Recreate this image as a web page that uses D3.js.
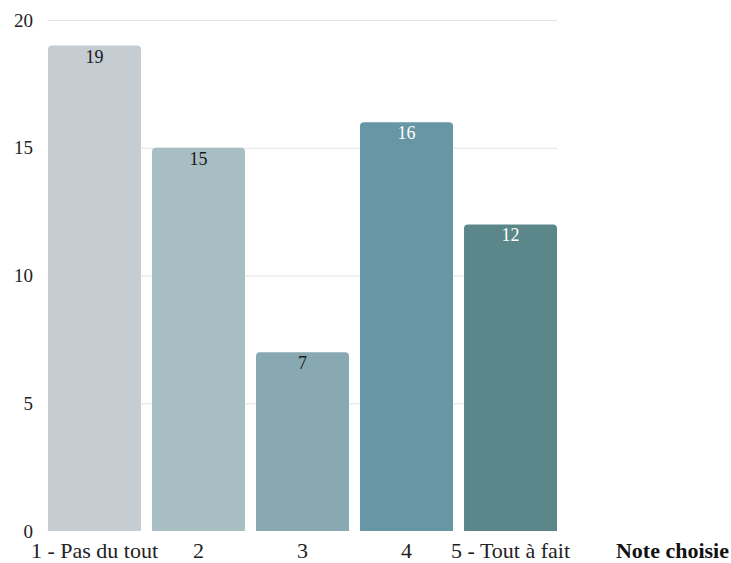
<!DOCTYPE html>
<html><head><meta charset="utf-8">
<script src="https://cdn.jsdelivr.net/npm/d3@7"></script>
<style>body{margin:0;background:#fff}svg{display:block}</style>
</head><body>
<svg id="c" width="731" height="563"></svg>
<script>
const categories = ["1 - Pas du tout", "2", "3", "4", "5 - Tout à fait"];
const values = [19, 15, 7, 16, 12];
const colors = ["#c5cdd3", "#a7bec3", "#88a9b2", "#6796a4", "#5b878b"];
const labelColors = ["#1a1a1a", "#1a1a1a", "#1a1a1a", "#ffffff", "#ffffff"];
const yTicks = [0, 5, 10, 15, 20];
const xTitle = "Note choisie";

const svg = d3.select("#c");
const font = "'Liberation Serif', 'DejaVu Serif', serif";
const x = d3.scaleBand().domain(categories).range([48, 557]).paddingInner(0.106).paddingOuter(0);
const y = d3.scaleLinear().domain([0, 20]).range([531, 20]);

// grid
svg.append("g").selectAll("line").data(yTicks.filter(d => d > 0)).join("line")
  .attr("x1", 48).attr("x2", 557)
  .attr("y1", d => y(d) + 0.5).attr("y2", d => y(d) + 0.5)
  .attr("stroke", "#e2e2e2").attr("stroke-width", 1);

// y tick labels
svg.append("g").selectAll("text").data(yTicks).join("text")
  .attr("x", 33).attr("y", d => y(d))
  .attr("dy", "0.35em").attr("text-anchor", "end")
  .attr("font-family", font).attr("font-size", 19).attr("fill", "#222")
  .text(d => d);

// bars with rounded top corners
const r = 4;
function barPath(d, i) {
  const x0 = x(categories[i]), w = x.bandwidth(), y0 = y(d), y1 = y(0);
  return `M${x0},${y1}V${y0 + r}Q${x0},${y0} ${x0 + r},${y0}H${x0 + w - r}Q${x0 + w},${y0} ${x0 + w},${y0 + r}V${y1}Z`;
}
svg.append("g").selectAll("path").data(values).join("path")
  .attr("d", barPath).attr("fill", (d, i) => colors[i]);

// value labels
svg.append("g").selectAll("text").data(values).join("text")
  .attr("x", (d, i) => x(categories[i]) + x.bandwidth() / 2)
  .attr("y", d => y(d) + 17)
  .attr("text-anchor", "middle")
  .attr("font-family", font).attr("font-size", 18)
  .attr("fill", (d, i) => labelColors[i])
  .text(d => d);

// x category labels
svg.append("g").selectAll("text").data(categories).join("text")
  .attr("x", d => x(d) + x.bandwidth() / 2)
  .attr("y", 558)
  .attr("text-anchor", "middle")
  .attr("font-family", font).attr("font-size", 22).attr("fill", "#222")
  .text(d => d);

svg.append("text").attr("x", 729).attr("y", 558).attr("text-anchor", "end")
  .attr("font-family", font).attr("font-size", 22).attr("font-weight", "bold").attr("fill", "#111")
  .text(xTitle);
</script>
</body></html>
